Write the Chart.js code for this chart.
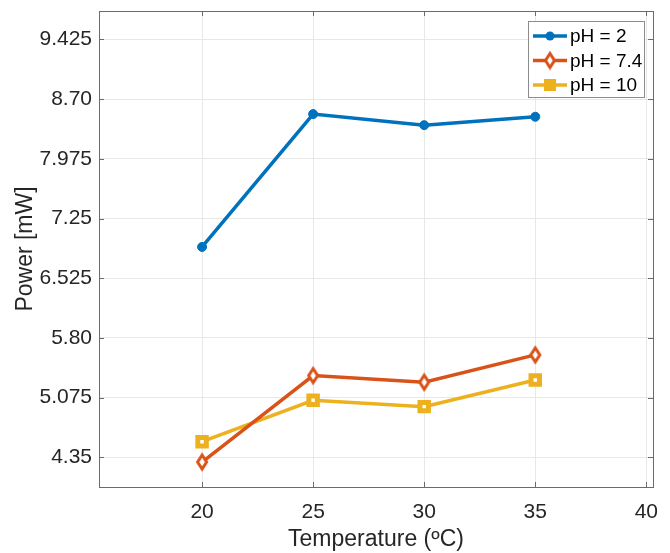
<!DOCTYPE html>
<html>
<head>
<meta charset="utf-8">
<script src="https://cdn.jsdelivr.net/npm/chart.js@4"></script>
<style>
  html, body { margin: 0; padding: 0; background: #fff; }
  #wrap { width: 670px; height: 553px; }
</style>
</head>
<body>
<div id="wrap"><canvas id="powerChart" width="670" height="553"></canvas></div>
<script>
// Temperatures on the x axis
const temperatures = [20, 25, 30, 35];

// Power values for each pH
const powerPH2 = [6.905, 8.518, 8.384, 8.486];
const powerPH74 = [4.293, 5.343, 5.262, 5.594];
const powerPH10 = [4.540, 5.043, 4.966, 5.290];

// Tick values and their labels
const xTicks = [20, 25, 30, 35, 40];
const yTicks = [4.35, 5.075, 5.80, 6.525, 7.25, 7.975, 8.70, 9.425];
const yTickLabels = ['4.35', '5.075', '5.80', '6.525', '7.25', '7.975', '8.70', '9.425'];

const seriesNames = ['pH = 2', 'pH = 7.4', 'pH = 10'];

const FONT = '"Liberation Sans", Arial, Helvetica, sans-serif';
const textColor = '#262626';

function toPoints(values) {
    return temperatures.map((t, i) => ({ x: t, y: values[i] }));
}

// tall open diamond like MATLAB's 'd' marker
function makeDiamond(color) {
    const cv = document.createElement('canvas');
    cv.width = 14;
    cv.height = 20;
    const c = cv.getContext('2d');
    c.strokeStyle = color;
    c.fillStyle = '#fff';
    c.lineWidth = 3;
    c.beginPath();
    c.moveTo(7, 3);
    c.lineTo(11.5, 10);
    c.lineTo(7, 17);
    c.lineTo(2.5, 10);
    c.closePath();
    c.fill();
    c.stroke();
    return cv;
}
const diamondMarker = makeDiamond('#D95319');

// draw a legend marker shape
function drawMarker(c, style, x, y, color) {
    c.save();
    c.fillStyle = color;
    if (style === 'circle') {
        c.beginPath();
        c.arc(x, y, 4.5, 0, Math.PI * 2);
        c.fill();
    } else if (style === 'rect') {
        c.fillRect(x - 6, y - 6, 12, 12);
    } else {
        c.drawImage(style, x - style.width / 2, y - style.height / 2);
    }
    c.restore();
}

// box round the plot, inner ticks and a MATLAB-style legend
const matlabBox = {
    id: 'matlabBox',
    afterDatasetsDraw(chart) {
        const c = chart.ctx;
        const a = chart.chartArea;
        const xs = chart.scales.x;
        const ys = chart.scales.y;
        c.save();
        c.strokeStyle = '#6b6b6b';
        c.lineWidth = 1;
        c.beginPath();
        xTicks.forEach(t => {
            const px = Math.round(xs.getPixelForValue(t)) + 0.5;
            c.moveTo(px, a.bottom); c.lineTo(px, a.bottom - 5);
            c.moveTo(px, a.top); c.lineTo(px, a.top + 5);
        });
        yTicks.forEach(t => {
            const py = Math.round(ys.getPixelForValue(t)) + 0.5;
            c.moveTo(a.left, py); c.lineTo(a.left + 5, py);
            c.moveTo(a.right, py); c.lineTo(a.right - 5, py);
        });
        c.stroke();
        c.strokeRect(Math.round(a.left) + 0.5, Math.round(a.top) + 0.5,
            Math.round(a.right - a.left), Math.round(a.bottom - a.top));

        // legend
        const lx = 528.5, ly = 21.5, lw = 116, lh = 76;
        c.fillStyle = '#fff';
        c.fillRect(lx, ly, lw, lh);
        c.strokeStyle = '#8c8c8c';
        c.strokeRect(lx, ly, lw, lh);
        c.font = '19px ' + FONT;
        c.textBaseline = 'middle';
        chart.data.datasets.forEach((ds, i) => {
            const y = 36 + i * 24.5;
            c.strokeStyle = ds.borderColor;
            c.lineWidth = 3.5;
            c.beginPath();
            c.moveTo(533, y); c.lineTo(567, y);
            c.stroke();
            drawMarker(c, ds.pointStyle, 550, y, ds.borderColor);
            c.fillStyle = '#000';
            c.fillText(ds.label, 570, y + 1);
        });
        c.restore();
    }
};

const ctx = document.getElementById('powerChart').getContext('2d');

const chart = new Chart(ctx, {
    type: 'line',
    data: {
        datasets: [
            {
                label: seriesNames[0],
                data: toPoints(powerPH2),
                borderColor: '#0072BD',
                backgroundColor: '#0072BD',
                borderWidth: 3.5,
                pointStyle: 'circle',
                pointRadius: 4.5,
                pointBorderWidth: 1
            },
            {
                label: seriesNames[1],
                data: toPoints(powerPH74),
                borderColor: '#D95319',
                backgroundColor: '#ffffff',
                borderWidth: 3.5,
                pointStyle: diamondMarker,
                pointRadius: 7
            },
            {
                label: seriesNames[2],
                data: toPoints(powerPH10),
                borderColor: '#EDB120',
                backgroundColor: '#ffffff',
                borderWidth: 3.5,
                pointStyle: 'rect',
                pointRadius: 6,
                pointBorderWidth: 5
            }
        ]
    },
    options: {
        responsive: false,
        animation: false,
        layout: { padding: { left: 0, right: 17, top: 11, bottom: 0 } },
        plugins: {
            legend: { display: false },
            tooltip: { enabled: false }
        },
        scales: {
            x: {
                type: 'linear',
                min: 15.36,
                max: 40.3,
                afterBuildTicks: scale => { scale.ticks = xTicks.map(v => ({ value: v })); },
                afterFit: scale => {
                    scale.height = 66;
                    scale.paddingLeft = 0;
                    scale.paddingRight = 0;
                },
                border: { display: false },
                grid: { color: '#e8e8e8', drawTicks: false },
                ticks: {
                    color: textColor,
                    padding: 13,
                    font: { family: FONT, size: 21 },
                    maxRotation: 0
                },
                title: {
                    display: true,
                    text: 'Temperature (ºC)',
                    color: textColor,
                    font: { family: FONT, size: 23 },
                    padding: { top: 0, bottom: 0 }
                }
            },
            y: {
                type: 'linear',
                min: 3.99,
                max: 9.77,
                afterBuildTicks: scale => { scale.ticks = yTicks.map(v => ({ value: v })); },
                afterFit: scale => {
                    scale.width = 99;
                    scale.paddingTop = 0;
                    scale.paddingBottom = 0;
                },
                border: { display: false },
                grid: { color: '#e8e8e8', drawTicks: false },
                ticks: {
                    color: textColor,
                    padding: 7,
                    font: { family: FONT, size: 21 },
                    callback: (value, index) => yTickLabels[index]
                },
                title: {
                    display: true,
                    text: 'Power [mW]',
                    color: textColor,
                    font: { family: FONT, size: 23 },
                    padding: { top: 12, bottom: 0 }
                }
            }
        }
    },
    plugins: [matlabBox]
});
</script>
</body>
</html>
